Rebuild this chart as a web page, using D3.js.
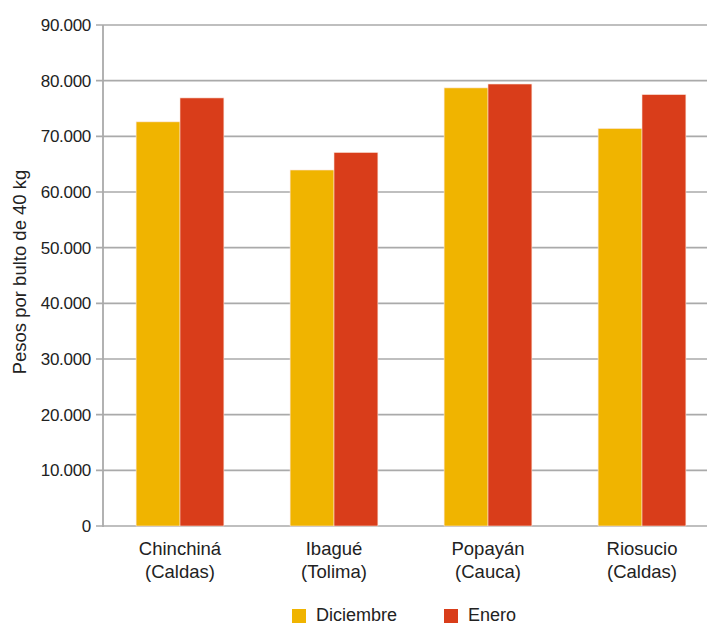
<!DOCTYPE html>
<html><head><meta charset="utf-8">
<script src="https://cdn.jsdelivr.net/npm/d3@7"></script>
<style>body{margin:0;background:#fff}svg{display:block}text{font-family:"Liberation Sans",Arial,sans-serif;fill:#222}</style>
</head><body><svg id="c" width="707" height="625"></svg>
<script>
const categories = [["Chinchiná","(Caldas)"],["Ibagué","(Tolima)"],["Popayán","(Cauca)"],["Riosucio","(Caldas)"]];
const seriesNames = ["Diciembre","Enero"];
const diciembre = [72600, 63950, 78700, 71400];
const enero = [76900, 67100, 79400, 77500];
const yTicks = [0,10000,20000,30000,40000,50000,60000,70000,80000,90000];
const colors = ["#F0B400","#D93D1A"];

const svg = d3.select("#c");
const y = d3.scaleLinear().domain([0,90000]).range([526,25]);
const x0 = d3.scaleBand().domain(d3.range(categories.length)).range([103,719]).paddingInner(0.43).paddingOuter(0.215);
const x1 = d3.scaleBand().domain([0,1]).range([0,x0.bandwidth()]);
const fmt = v => v===0 ? "0" : d3.format(",")(v).replace(/,/g,".");

// gridlines
svg.append("g").selectAll("line").data(yTicks).join("line")
  .attr("x1",96).attr("x2",707).attr("y1",d=>y(d)).attr("y2",d=>y(d))
  .attr("stroke","#aaaaaa").attr("stroke-width",1.6);
svg.append("g").selectAll("text").data(yTicks).join("text")
  .attr("x",91).attr("y",d=>y(d)).attr("dy","0.35em").attr("text-anchor","end")
  .attr("font-size",17).attr("letter-spacing",-0.3).text(fmt);

// bars
const data = categories.map((c,i)=>[diciembre[i],enero[i]]);
const g = svg.append("g");
data.forEach((vals,i)=>{
  g.selectAll(null).data(vals).join("rect")
    .attr("x",(d,j)=>x0(i)+x1(j)).attr("width",x1.bandwidth())
    .attr("y",d=>y(d)).attr("height",d=>y(0)-y(d))
    .attr("fill",(d,j)=>colors[j]).attr("stroke","#fbe3d8").attr("stroke-width",0.6);
});

// y axis line
svg.append("line").attr("x1",103).attr("x2",103).attr("y1",25).attr("y2",527)
  .attr("stroke","#aaaaaa").attr("stroke-width",1.8);

// category labels
categories.forEach((c,i)=>{
  const cx = x0(i)+x0.bandwidth()/2;
  const t = svg.append("text").attr("text-anchor","middle").attr("font-size",18.5);
  t.append("tspan").attr("x",cx).attr("y",555).text(c[0]);
  t.append("tspan").attr("x",cx).attr("y",578).text(c[1]);
});

// y label
svg.append("text").attr("transform","translate(26,272) rotate(-90)")
  .attr("text-anchor","middle").attr("font-size",18.5).text("Pesos por bulto de 40 kg");

// legend
const lx = [292,444];
seriesNames.forEach((s,j)=>{
  svg.append("rect").attr("x",lx[j]).attr("y",609).attr("width",14).attr("height",14).attr("fill",colors[j]);
  svg.append("text").attr("x",lx[j]+24).attr("y",621).attr("font-size",18).text(s);
});
</script></body></html>
